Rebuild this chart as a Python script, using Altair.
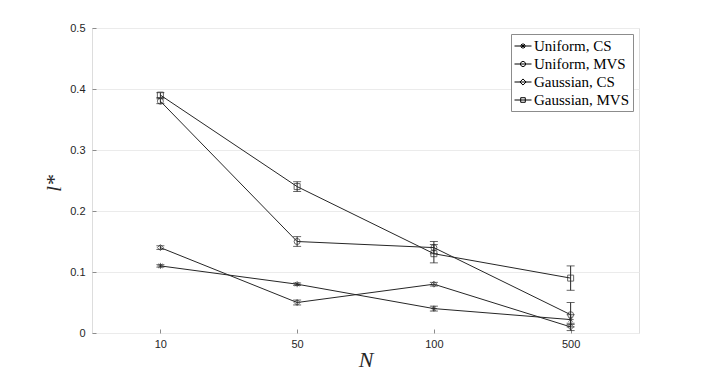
import altair as alt
import pandas as pd

N_labels = ["10", "50", "100", "500"]
series_names = ["Uniform, CS", "Uniform, MVS", "Gaussian, CS", "Gaussian, MVS"]

uniform_cs = [0.11, 0.08, 0.04, 0.022]
uniform_mvs = [0.38, 0.15, 0.14, 0.03]
gaussian_cs = [0.14, 0.05, 0.08, 0.01]
gaussian_mvs = [0.39, 0.24, 0.13, 0.09]

uniform_cs_err = [0.002, 0.002, 0.004, 0.008]
uniform_mvs_err = [0.004, 0.008, 0.01, 0.02]
gaussian_cs_err = [0.003, 0.004, 0.003, 0.006]
gaussian_mvs_err = [0.004, 0.008, 0.015, 0.02]

y_ticks = [0, 0.1, 0.2, 0.3, 0.4, 0.5]

rows = []
for name, vals, errs in zip(series_names,
                            [uniform_cs, uniform_mvs, gaussian_cs, gaussian_mvs],
                            [uniform_cs_err, uniform_mvs_err, gaussian_cs_err, gaussian_mvs_err]):
    for n, v, e in zip(N_labels, vals, errs):
        rows.append({"N": n, "series": name, "legend_series": name,
                     "l": v, "lo": v - e, "hi": v + e})
df = pd.DataFrame(rows)

INK = "#262626"
AX = "#8c8c8c"

star = "M0,-1L0,1M-1,0L1,0M-0.7,-0.7L0.7,0.7M-0.7,0.7L0.7,-0.7"
plot_shapes = [star, "circle", "diamond", "square"]
legend_shapes = [
    "M-1,0L1,0M0,-0.33L0,0.33M-0.33,0L0.33,0M-0.23,-0.23L0.23,0.23M-0.23,0.23L0.23,-0.23",
    "M-1,0L1,0M-0.3,0A0.3,0.3 0 1,1 0.3,0A0.3,0.3 0 1,1 -0.3,0",
    "M-1,0L1,0M-0.36,0L0,-0.36L0.36,0L0,0.36Z",
    "M-1,0L1,0M-0.27,-0.27L0.27,-0.27L0.27,0.27L-0.27,0.27Z",
]

x_enc = alt.X("N:O", sort=N_labels, scale=alt.Scale(type="point", padding=0.5),
              axis=alt.Axis(title="N", labelAngle=0, domain=False, grid=False,
                            offset=-4, tickSize=4, tickColor=AX, labelPadding=5,
                            labelFont="Liberation Sans", labelFontSize=11, labelColor=INK,
                            titleFont="Liberation Serif", titleFontStyle="italic",
                            titleFontWeight="normal", titleFontSize=22, titleColor=INK,
                            titlePadding=0))
y_scale = alt.Scale(domain=[0, 0.5], nice=False, zero=False)
y_axis = alt.Axis(title="l*", values=y_ticks, format="~g", domain=False, grid=True,
                  gridColor="#ebebeb", offset=-4, tickSize=4, tickColor=AX,
                  labelPadding=7, labelFont="Liberation Sans", labelFontSize=11,
                  labelColor=INK, titleFont="Liberation Serif", titleFontStyle="italic",
                  titleFontWeight="normal", titleFontSize=22, titleColor=INK,
                  titleAngle=270, titleAlign="center", titleBaseline="alphabetic",
                  titleX=-36, titleY=155)

base = alt.Chart(df)

lines = base.mark_line(color=INK, strokeWidth=1).encode(
    x=x_enc, y=alt.Y("l:Q", scale=y_scale, axis=y_axis), detail="series:N")

err = base.mark_rule(color=INK, strokeWidth=1).encode(x=x_enc, y="lo:Q", y2="hi:Q")
cap_lo = base.mark_tick(color=INK, orient="horizontal", size=8, thickness=1).encode(x=x_enc, y="lo:Q")
cap_hi = base.mark_tick(color=INK, orient="horizontal", size=8, thickness=1).encode(x=x_enc, y="hi:Q")

points = base.mark_point(filled=False, color=INK, strokeWidth=1, size=36).encode(
    x=x_enc, y="l:Q",
    shape=alt.Shape("series:N", scale=alt.Scale(domain=series_names, range=plot_shapes), legend=None))

legend_layer = base.mark_point(filled=False, color="black", strokeWidth=1, size=289, opacity=0).encode(
    x=x_enc, y="l:Q",
    shape=alt.Shape("legend_series:N",
                    scale=alt.Scale(domain=series_names, range=legend_shapes),
                    legend=alt.Legend(title=None, orient="top-right", offset=6,
                                      symbolOpacity=1, symbolStrokeColor="black",
                                      symbolStrokeWidth=1, symbolSize=289,
                                      labelFont="Liberation Serif", labelFontSize=15,
                                      labelColor="black", labelOffset=2, rowPadding=1,
                                      padding=3, strokeColor="#8c8c8c", fillColor="white",
                                      cornerRadius=0)))

chart = alt.layer(lines, err, cap_lo, cap_hi, points, legend_layer).resolve_scale(
    shape="independent"
).properties(
    width=547, height=305,
    autosize=alt.AutoSizeParams(type="none"),
    padding={"left": 84, "top": 20, "right": 59, "bottom": 37},
).configure_view(stroke=AX, strokeWidth=1).configure(background="white")

chart.save("out.html", embed_options={"renderer": "svg", "actions": False})
